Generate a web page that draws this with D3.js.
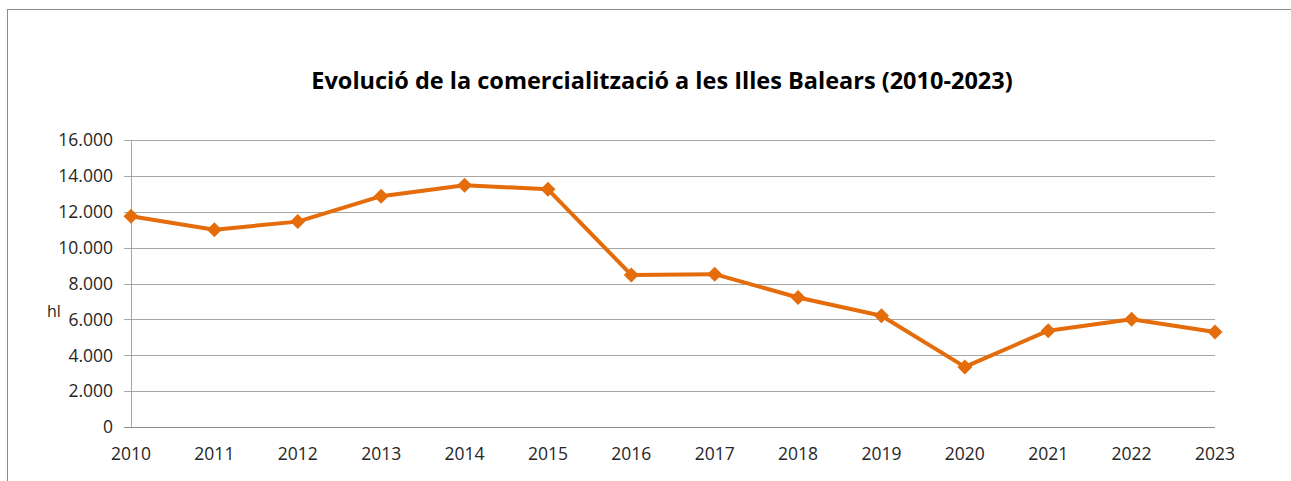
<!DOCTYPE html>
<html>
<head>
<meta charset="utf-8">
<script src="https://cdn.jsdelivr.net/npm/d3@7"></script>
<style>
  body { margin: 0; background: #fff; }
  text { font-family: "Open Sans", "Noto Sans", sans-serif; }
</style>
</head>
<body>
<script>
var years = [2010, 2011, 2012, 2013, 2014, 2015, 2016, 2017, 2018, 2019, 2020, 2021, 2022, 2023];
var values = [11750, 11000, 11450, 12870, 13480, 13250, 8480, 8520, 7220, 6200, 3350, 5370, 6010, 5300];
var yTicks = [0, 2000, 4000, 6000, 8000, 10000, 12000, 14000, 16000];

var w = 1291;
var h = 481;
var lineColor = "#e46c0a";

var svg = d3.select("body").append("svg")
    .attr("width", w)
    .attr("height", h);

// chart border
svg.append("rect")
   .attr("x", 7.5).attr("y", 9.5)
   .attr("width", w + 20).attr("height", h + 20)
   .attr("fill", "none")
   .attr("stroke", "#8c8c8c")
   .attr("stroke-width", 1);

var x = d3.scalePoint().domain(years).range([131, 1215]);
var y = d3.scaleLinear().domain([0, 16000]).range([427, 140]);

var fmt = function(d) { return d3.format(",")(d).replace(/,/g, "."); };

// gridlines
svg.selectAll("line.grid")
   .data(yTicks)
   .enter()
   .append("line")
   .attr("class", "grid")
   .attr("x1", 124)
   .attr("x2", 1215)
   .attr("y1", function(d) { return Math.round(y(d)) + 0.5; })
   .attr("y2", function(d) { return Math.round(y(d)) + 0.5; })
   .attr("stroke", function(d) { return d === 0 ? "#8c8c8c" : "#a6a6a6"; })
   .attr("stroke-width", 1);

// y axis line
svg.append("line")
   .attr("x1", 131.5).attr("x2", 131.5)
   .attr("y1", y(16000)).attr("y2", y(0))
   .attr("stroke", "#a6a6a6");

svg.selectAll("text.ytick")
   .data(yTicks)
   .enter()
   .append("text")
   .attr("class", "ytick")
   .attr("x", 113)
   .attr("y", function(d) { return y(d); })
   .attr("dy", "0.36em")
   .attr("text-anchor", "end")
   .attr("font-size", "17.5px")
   .attr("fill", "#262626")
   .text(fmt);

svg.selectAll("text.xtick")
   .data(years)
   .enter()
   .append("text")
   .attr("class", "xtick")
   .attr("x", function(d) { return x(d); })
   .attr("y", 460)
   .attr("text-anchor", "middle")
   .attr("font-size", "17.5px")
   .attr("fill", "#262626")
   .text(function(d) { return d; });

svg.append("text")
   .attr("x", 47).attr("y", 317)
   .attr("font-size", "16px")
   .attr("fill", "#262626")
   .text("hl");

svg.append("text")
   .attr("x", 662).attr("y", 89)
   .attr("text-anchor", "middle")
   .attr("font-size", "23.5px")
   .attr("font-weight", "bold")
   .attr("fill", "#000")
   .text("Evolució de la comercialització a les Illes Balears (2010-2023)");

var pts = years.map(function(d, i) { return [x(d), y(values[i])]; });

svg.append("path")
   .attr("d", d3.line()(pts))
   .attr("fill", "none")
   .attr("stroke", lineColor)
   .attr("stroke-width", 4)
   .attr("stroke-linejoin", "round");

svg.selectAll("path.mark")
   .data(pts)
   .enter()
   .append("path")
   .attr("class", "mark")
   .attr("d", function(p) {
      var r = 7.5;
      return "M" + p[0] + "," + (p[1] - r) + "L" + (p[0] + r) + "," + p[1] +
             "L" + p[0] + "," + (p[1] + r) + "L" + (p[0] - r) + "," + p[1] + "Z";
   })
   .attr("fill", lineColor);
</script>
</body>
</html>
